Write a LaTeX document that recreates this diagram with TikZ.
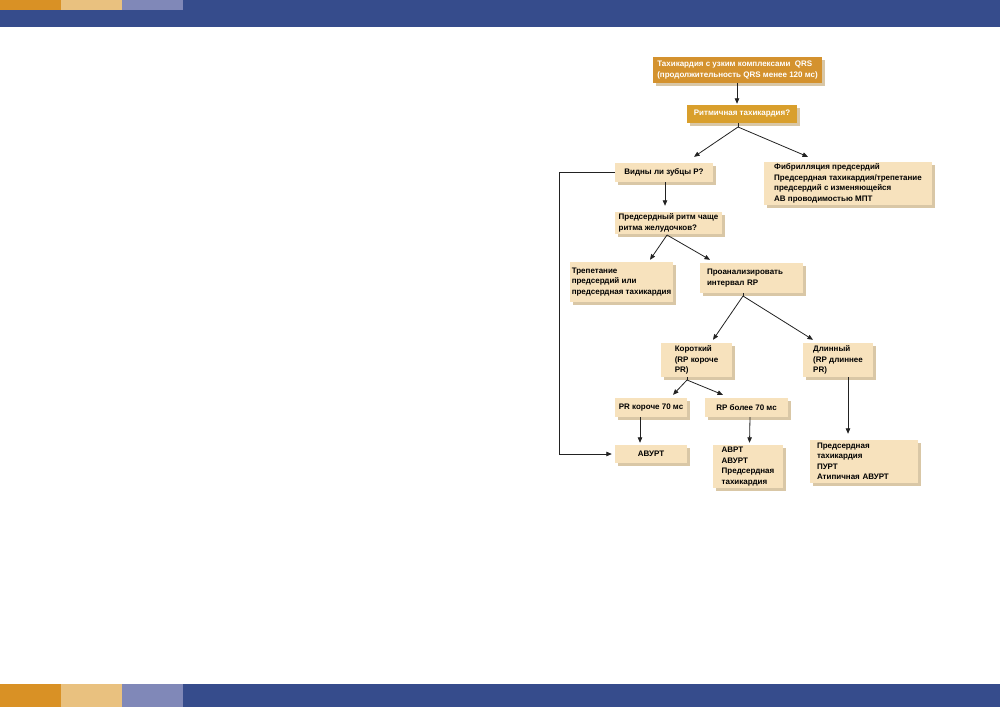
\documentclass[tikz,border=0pt]{standalone}
\usepackage{fontspec}
\setmainfont{Liberation Sans}
\usetikzlibrary{arrows.meta,shadows,calc}
\definecolor{barblue}{HTML}{364C8C}
\definecolor{barorange}{HTML}{D99125}
\definecolor{barlight}{HTML}{E9C17F}
\definecolor{barlav}{HTML}{8088B8}
\definecolor{boxfill}{HTML}{F7E2BD}
\definecolor{goldfill}{HTML}{D4922E}
\definecolor{goldfilltwo}{HTML}{D99F2C}
\definecolor{shadowc}{HTML}{D9C7A6}
\definecolor{linec}{HTML}{222222}
\tikzset{
  bx/.style={rectangle, fill=boxfill, inner sep=0pt, align=left, text=black,
    font=\fontsize{8}{10.5}\selectfont\bfseries,
    drop shadow={shadow xshift=2.5pt, shadow yshift=-2.5pt, fill=shadowc, opacity=1}},
  gbx/.style={bx, fill=goldfill, text=white},
  arr/.style={draw=linec, line width=0.8pt, -{Triangle[length=5.5pt,width=4.5pt]}},
  ln/.style={draw=linec, line width=0.8pt}
}
\begin{document}
\begin{tikzpicture}[x=1pt,y=-1pt]
\useasboundingbox (0,0) rectangle (1000,707);
% bars
\fill[barblue] (0,0) rectangle (1000,27);
\fill[barorange] (0,0) rectangle (61,10);
\fill[barlight] (61,0) rectangle (122,10);
\fill[barlav] (122,0) rectangle (183,10);
\fill[barblue] (0,684) rectangle (1000,707);
\fill[barorange] (0,684) rectangle (61,707);
\fill[barlight] (61,684) rectangle (122,707);
\fill[barlav] (122,684) rectangle (183,707);

% nodes
\node[gbx, minimum width=169pt, minimum height=26pt] (n1) at (737.5,70)
  {Тахикардия с узким комплексами~ QRS\\(продолжительность QRS менее 120 мс)};
\node[gbx, fill=goldfilltwo, minimum width=110pt, minimum height=18pt] (n2) at (742,114)
  {Ритмичная тахикардия?};
\node[bx, minimum width=98pt, minimum height=19pt] (n3) at (664,172.5)
  {Видны ли зубцы P?};
\node[bx, minimum width=168pt, minimum height=43pt] (n4) at (848,183.5)
  {Фибрилляция предсердий\\Предсердная тахикардия/трепетание\\предсердий с изменяющейся\\АВ проводимостью МПТ};
\node[bx, minimum width=107pt, minimum height=22pt] (n5) at (668.5,223)
  {Предсердный ритм чаще\\ритма желудочков?};
\node[bx, minimum width=103pt, minimum height=40pt] (n6) at (621.5,282)
  {Трепетание\\предсердий или\\предсердная тахикардия};
\node[bx, minimum width=103pt, minimum height=30pt, text width=89pt] (n7) at (751.5,278)
  {Проанализировать\\интервал RP};
\node[bx, minimum width=71pt, minimum height=34pt] (n8) at (696.5,360)
  {Короткий\\(RP короче\\PR)};
\node[bx, minimum width=70pt, minimum height=34pt] (n9) at (838,360)
  {Длинный\\(RP длиннее\\PR)};
\node[bx, minimum width=72pt, minimum height=19pt] (n10) at (651,407.5)
  {PR короче 70 мс};
\node[bx, minimum width=83pt, minimum height=19pt] (n11) at (746.5,407.5)
  {RP более 70 мс};
\node[bx, minimum width=72pt, minimum height=18pt] (n12) at (651,454)
  {АВУРТ};
\node[bx, minimum width=70pt, minimum height=43pt] (n13) at (748,466.5)
  {АВРТ\\АВУРТ\\Предсердная\\тахикардия};
\node[bx, minimum width=108pt, minimum height=43pt, text width=94pt] (n14) at (864,461.5)
  {Предсердная\\тахикардия\\ПУРТ\\Атипичная АВУРТ};

% fork apexes
\coordinate (a2) at (738,127);
\coordinate (a5) at (667,235);
\coordinate (a7) at (743,296);
\coordinate (a8) at (687,380);

% connectors
\draw[arr] (n1.south -| 737,0) -- ([yshift=1pt]n2.north -| 737,0);
\draw[ln] (n2.south -| a2) -- (a2);
\draw[arr] (a2) -- ([xshift=30pt,yshift=6pt]n3.north);
\draw[arr] (a2) -- ([xshift=-40pt,yshift=5pt]n4.north);
\draw[arr] ([xshift=1pt]n3.south) -- ([xshift=1pt,yshift=6pt]n3.south |- n5.north);
\draw[arr] (n3.west) -- ++(-55,0) |- ([xshift=-3pt]n12.west);
\draw[arr] (a5) -- ([xshift=28.5pt,yshift=2pt]n6.north);
\draw[arr] (a5) -- ([xshift=-41.5pt,yshift=3pt]n7.north);
\draw[ln] ([xshift=-8.5pt]n7.south) -- (a7);
\draw[arr] (a7) -- ([xshift=16.5pt,yshift=3pt]n8.north);
\draw[arr] (a7) -- ([xshift=-25pt,yshift=3pt]n9.north);
\draw[ln] ([xshift=-9.5pt]n8.south) -- (a8);
\draw[arr] (a8) -- ([xshift=22pt,yshift=3pt]n10.north);
\draw[arr] (a8) -- ([xshift=-23.5pt,yshift=3pt]n11.north);
\draw[arr] ([xshift=-11pt]n10.south) -- ([xshift=-11pt,yshift=2pt]n12.north);
\draw[arr] ([xshift=3.5pt]n11.south) -- ([xshift=1.5pt,yshift=2pt]n13.north);
\draw[arr] ([xshift=10pt]n9.south) -- ([xshift=-16pt,yshift=6pt]n14.north);
\end{tikzpicture}
\end{document}
